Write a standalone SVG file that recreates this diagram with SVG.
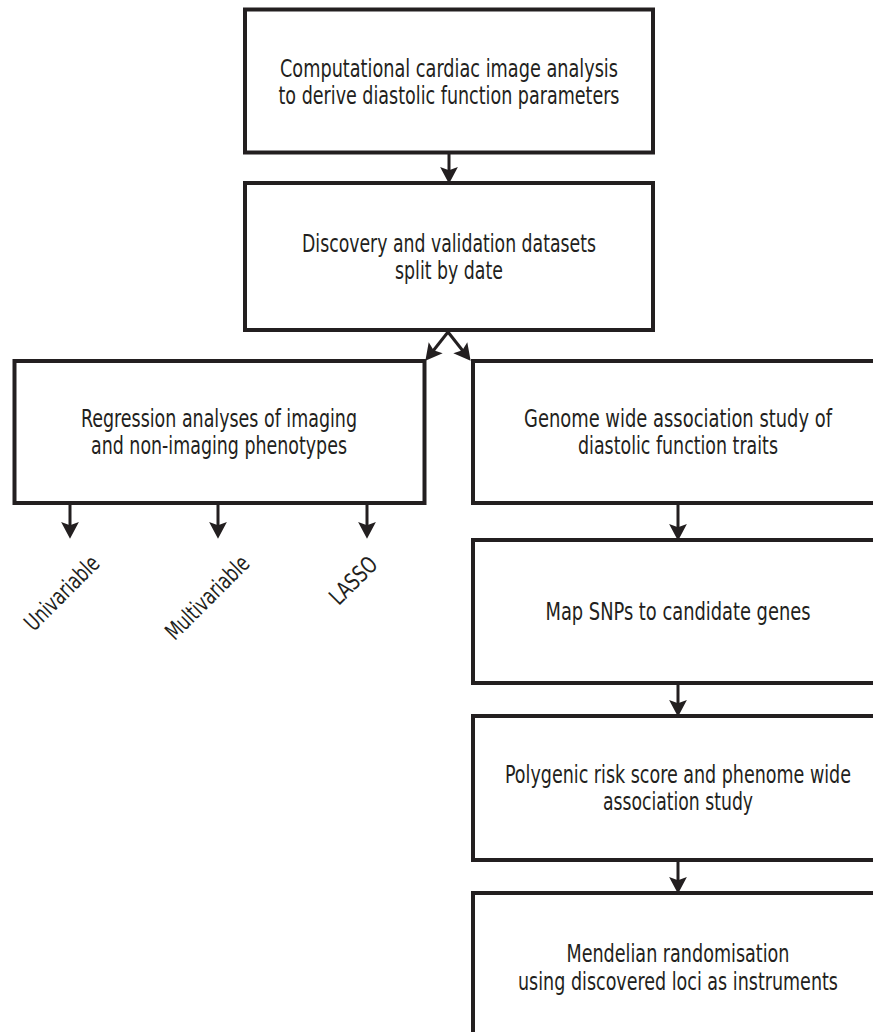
<svg xmlns="http://www.w3.org/2000/svg" width="873" height="1032" viewBox="0 0 873 1032">
<style>
.box{fill:#fff;stroke:#231f20;stroke-width:4}
.open{fill:none;stroke:#231f20;stroke-width:4}
.t{font-family:"Liberation Sans Narrow","DejaVu Sans Condensed","Liberation Sans",sans-serif;font-stretch:condensed;font-size:25px;fill:#231f20;text-anchor:middle}
.r{font-family:"Liberation Sans Narrow","DejaVu Sans Condensed","Liberation Sans",sans-serif;font-stretch:condensed;font-size:23px;fill:#231f20;text-anchor:end}
.c{fill:none;stroke:#231f20;stroke-width:3;marker-end:url(#ah)}
</style>
<defs>
<marker id="ah" markerUnits="userSpaceOnUse" markerWidth="20" markerHeight="20" viewBox="-16 -9 18 18" refX="-6" refY="0" orient="auto">
<path d="M0,0 L-15,-8 L-12,0 L-15,8 Z" fill="#231f20"/>
</marker>
</defs>
<rect width="873" height="1032" fill="#fff"/>
<g id="connectors">
<line class="c" x1="449" y1="153" x2="449" y2="177"/>
<line class="c" x1="448" y1="332" x2="429.5" y2="355.5"/>
<line class="c" x1="448" y1="332" x2="466.5" y2="355.5"/>
<line class="c" x1="70" y1="503" x2="70" y2="532"/>
<line class="c" x1="218" y1="503" x2="218" y2="532"/>
<line class="c" x1="367" y1="503" x2="367" y2="532"/>
<line class="c" x1="678" y1="503" x2="678" y2="534"/>
<line class="c" x1="678" y1="683" x2="678" y2="710"/>
<line class="c" x1="678" y1="860" x2="678" y2="887"/>
</g>
<g id="n1">
<rect class="box" x="245" y="9.5" width="408" height="143"/>
<text class="t" x="449" y="77" textLength="338" lengthAdjust="spacingAndGlyphs">Computational cardiac image analysis</text>
<text class="t" x="449" y="104" textLength="341" lengthAdjust="spacingAndGlyphs">to derive diastolic function parameters</text>
</g>
<g id="n2">
<rect class="box" x="245" y="183" width="408" height="147"/>
<text class="t" x="449" y="252" textLength="294" lengthAdjust="spacingAndGlyphs">Discovery and validation datasets</text>
<text class="t" x="449" y="279" textLength="108" lengthAdjust="spacingAndGlyphs">split by date</text>
</g>
<g id="n3">
<rect class="box" x="14.5" y="361" width="410" height="142"/>
<text class="t" x="219" y="427" textLength="276" lengthAdjust="spacingAndGlyphs">Regression analyses of imaging</text>
<text class="t" x="219" y="454" textLength="256" lengthAdjust="spacingAndGlyphs">and non-imaging phenotypes</text>
</g>
<g id="n4">
<path class="open" d="M873,361 H473 V503 H873"/>
<text class="t" x="678" y="427" textLength="308" lengthAdjust="spacingAndGlyphs">Genome wide association study of</text>
<text class="t" x="678" y="454" textLength="200" lengthAdjust="spacingAndGlyphs">diastolic function traits</text>
</g>
<g id="n5">
<path class="open" d="M873,540 H473 V683 H873"/>
<text class="t" x="678" y="620" textLength="265" lengthAdjust="spacingAndGlyphs">Map SNPs to candidate genes</text>
</g>
<g id="n6">
<path class="open" d="M873,716 H473 V860 H873"/>
<text class="t" x="678" y="783" textLength="346" lengthAdjust="spacingAndGlyphs">Polygenic risk score and phenome wide</text>
<text class="t" x="678" y="810" textLength="150" lengthAdjust="spacingAndGlyphs">association study</text>
</g>
<g id="n7">
<path class="open" d="M873,893 H473 V1032"/>
<text class="t" x="678" y="962" textLength="223" lengthAdjust="spacingAndGlyphs">Mendelian randomisation</text>
<text class="t" x="678" y="990" textLength="320" lengthAdjust="spacingAndGlyphs">using discovered loci as instruments</text>
</g>
<g id="l1"><text class="r" transform="translate(101,565) rotate(-45)" textLength="95" lengthAdjust="spacingAndGlyphs">Univariable</text></g>
<g id="l2"><text class="r" transform="translate(251,565) rotate(-45)" textLength="108" lengthAdjust="spacingAndGlyphs">Multivariable</text></g>
<g id="l3"><text class="r" transform="translate(379,566) rotate(-45)" textLength="57" lengthAdjust="spacingAndGlyphs">LASSO</text></g>
</svg>
